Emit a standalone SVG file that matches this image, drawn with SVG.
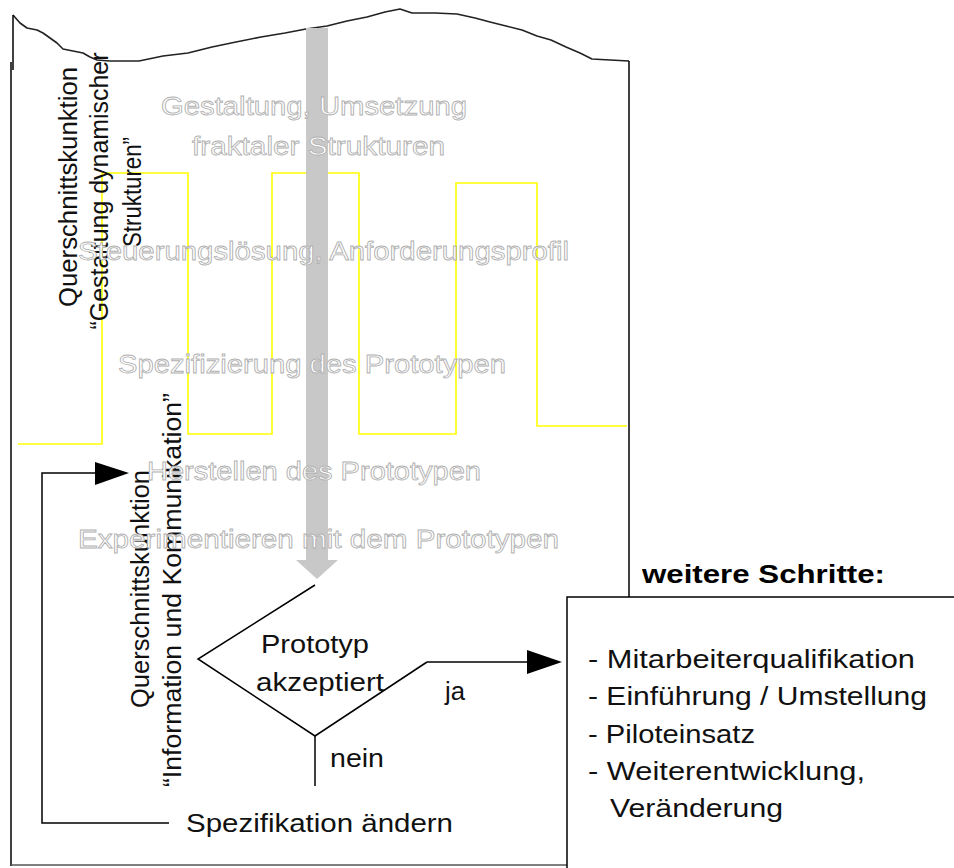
<svg xmlns="http://www.w3.org/2000/svg" width="954" height="868" viewBox="0 0 954 868">
<style>
.ln{fill:none;stroke:#000;stroke-width:1.5}
.wave{fill:none;stroke:#222;stroke-width:1.6;stroke-linejoin:round}
.yel{fill:none;stroke:#ffff00;stroke-width:1.6}
.t{font-family:"Liberation Sans","DejaVu Sans",sans-serif;font-size:25px;fill:#111}
.tb{font-family:"Liberation Sans","DejaVu Sans",sans-serif;font-size:25px;font-weight:bold;fill:#000}
.w{font-family:"Liberation Sans","DejaVu Sans",sans-serif;font-size:25px;fill:#fff;stroke:#b0b0b0;stroke-width:0.8}
.ah{fill:#000}
</style>
<rect width="954" height="868" fill="#fff"/>
<g id="frame">
<polyline class="wave" points="13,15 20,23 27,28 37,30 43,33 50,38 57,43 63,49 73,51 83,53 90,57 97,60 110,61 139,61 163,56 188,53 212,47 236,42 261,37 285,33 306,29 327,26 347,21 367,17 385,12 400,9 412,13 435,13 457,14 475,18 490,22 506,26 522,30 537,36 551,40 566,47 580,53 592,59 610,60 629,61"/>
<line class="ln" x1="13" y1="15" x2="13" y2="70"/>
<line class="ln" x1="11" y1="62" x2="11" y2="866"/>
<line class="ln" x1="629" y1="61" x2="629" y2="597"/>
<line x1="11" y1="865" x2="567" y2="865" stroke="#555" stroke-width="1.5"/>
</g>
<g id="yellow-wave">
<polyline class="yel" points="18,444 102,444 102,173 188,173 188,434 272,434 272,173 359,173 359,434 456,434 456,183 537,183 537,426 627,426"/>
</g>
<g id="main-arrow">
<rect x="306" y="28" width="22" height="534" fill="#c8c8c8"/>
<polygon points="296,560 338,560 317,579" fill="#c8c8c8"/>
</g>
<g id="cross-function-1">
<text class="t" text-anchor="middle" textLength="240" lengthAdjust="spacingAndGlyphs" transform="translate(77,187) rotate(-90)">Querschnittskunktion</text>
<text class="t" text-anchor="middle" textLength="277" lengthAdjust="spacingAndGlyphs" transform="translate(108,191) rotate(-90)">“Gestaltung dynamischer</text>
<text class="t" text-anchor="middle" textLength="110" lengthAdjust="spacingAndGlyphs" transform="translate(141,192) rotate(-90)">Strukturen”</text>
</g>
<g id="cross-function-2">
<text class="t" text-anchor="middle" textLength="238" lengthAdjust="spacingAndGlyphs" transform="translate(149,589) rotate(-90)">Querschnittskunktion</text>
<text class="t" text-anchor="middle" textLength="394" lengthAdjust="spacingAndGlyphs" transform="translate(181,590) rotate(-90)">“Information und Kommunikation”</text>
</g>
<g id="decision">
<polyline class="ln" points="315,585 198,659 315,736 427,662"/>
<text class="t" x="261" y="653" textLength="108" lengthAdjust="spacingAndGlyphs">Prototyp</text>
<text class="t" x="256" y="691" textLength="128" lengthAdjust="spacingAndGlyphs">akzeptiert</text>
</g>
<g id="change-spec">
<text class="t" x="186" y="832" textLength="267" lengthAdjust="spacingAndGlyphs">Spezifikation ändern</text>
</g>
<g id="next-steps">
<text class="tb" x="642" y="583" textLength="243" lengthAdjust="spacingAndGlyphs">weitere Schritte:</text>
<rect x="567" y="597" width="400" height="280" fill="none" stroke="#000" stroke-width="1.5"/>
<text class="t" x="588" y="668" textLength="327" lengthAdjust="spacingAndGlyphs">- Mitarbeiterqualifikation</text>
<text class="t" x="588" y="705" textLength="339" lengthAdjust="spacingAndGlyphs">- Einführung / Umstellung</text>
<text class="t" x="588" y="743" textLength="167" lengthAdjust="spacingAndGlyphs">- Piloteinsatz</text>
<text class="t" x="588" y="780" textLength="277" lengthAdjust="spacingAndGlyphs">- Weiterentwicklung,</text>
<text class="t" x="610" y="817" textLength="173" lengthAdjust="spacingAndGlyphs">Veränderung</text>
</g>
<g id="connectors">
<polyline class="ln" points="427,662 528,662"/>
<polygon class="ah" points="527,650 562,662 527,674"/>
<text class="t" x="445" y="700" textLength="20" lengthAdjust="spacingAndGlyphs">ja</text>
<line class="ln" x1="315" y1="736" x2="315" y2="786"/>
<text class="t" x="330" y="767" textLength="54" lengthAdjust="spacingAndGlyphs">nein</text>
<polyline class="ln" points="169,823 42,823 42,473 96,473"/>
<polygon class="ah" points="95,462 129,473 95,485"/>
</g>
<g id="phases">
<text class="w" x="161" y="115" textLength="306" lengthAdjust="spacingAndGlyphs">Gestaltung, Umsetzung</text>
<text class="w" x="192" y="155" textLength="253" lengthAdjust="spacingAndGlyphs">fraktaler Strukturen</text>
<text class="w" x="78" y="260" textLength="491" lengthAdjust="spacingAndGlyphs">Steuerungslösung, Anforderungsprofil</text>
<text class="w" x="118" y="373" textLength="388" lengthAdjust="spacingAndGlyphs">Spezifizierung des Prototypen</text>
<text class="w" x="147" y="480" textLength="334" lengthAdjust="spacingAndGlyphs">Herstellen des Prototypen</text>
<text class="w" x="78" y="548" textLength="481" lengthAdjust="spacingAndGlyphs">Experimentieren mit dem Prototypen</text>
</g>
</svg>
